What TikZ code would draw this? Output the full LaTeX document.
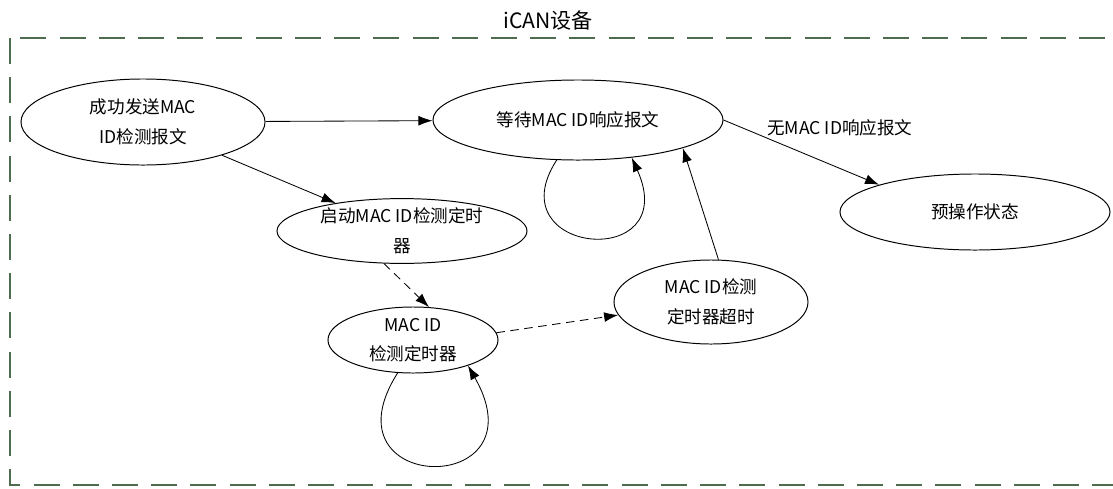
\documentclass[tikz,border=0pt]{standalone}
\usepackage{fontspec}
\newfontfamily\cjk{Noto Sans CJK SC}
\usetikzlibrary{arrows.meta,shapes.geometric}
\definecolor{framegreen}{RGB}{78,108,78}

\begin{document}
\begin{tikzpicture}[x=0.025cm, y=-0.025cm,
    state/.style={draw, ellipse, line width=0.7pt, inner sep=0pt, align=center,
        font=\cjk\fontsize{12.5}{21}\selectfont},
    trans/.style={line width=0.6pt, -{Latex[length=10pt,width=7pt]}},
    timerline/.style={dash pattern=on 6pt off 4pt}]
    \useasboundingbox (0,0) rectangle (1113,488);

    % Frame (its right side lies past the page) and title
    \draw[framegreen, line width=1.5pt, dash pattern=on 0.65cm off 0.33cm] (10,38) rectangle (1130,485);
    \node (title) at (548,20) {\cjk\fontsize{15}{18}\selectfont iCAN设备};

    % States
    \node[state, minimum width=6.1cm, minimum height=2.15cm] (send) at (143,122) {成功发送MAC\\ID检测报文};
    \node[state, minimum width=7.25cm, minimum height=2cm] (wait) at (578,120) {等待MAC ID响应报文};
    \node[state, minimum width=6.75cm, minimum height=1.9cm] (preop) at (975,212) {预操作状态};
    \node[state, minimum width=6.25cm, minimum height=1.55cm] (start) at (402,231) {启动MAC ID检测定时\\器};
    \node[state, minimum width=4.25cm, minimum height=1.65cm] (timer) at (413,340) {MAC ID\\检测定时器};
    \node[state, minimum width=4.85cm, minimum height=2.1cm] (timeout) at (711,302) {MAC ID检测\\定时器超时};

    % Transitions
    \draw[trans] (send) -- (wait);
    \draw[trans] (send) -- (start);
    \draw[trans] (wait.east) -- (preop.north west)
        node[pos=0.27, anchor=south west, inner sep=1pt, font=\cjk\fontsize{12.5}{15}\selectfont] (nolabel) {无MAC ID响应报文};
    \draw[trans] (timeout.80) -- (wait.-15);
    \draw[trans, timerline] (start.-119) -- (timer.64);
    \draw[trans, timerline] (timer.5) -- (timeout.188);

    % Self loops
    \draw[trans] (wait.-118) .. controls (495,255) and (683,272) .. (wait.-35);
    \draw[trans] (timer.-115) .. controls (320,495) and (544,499) .. (timer.-25);
\end{tikzpicture}
\end{document}
